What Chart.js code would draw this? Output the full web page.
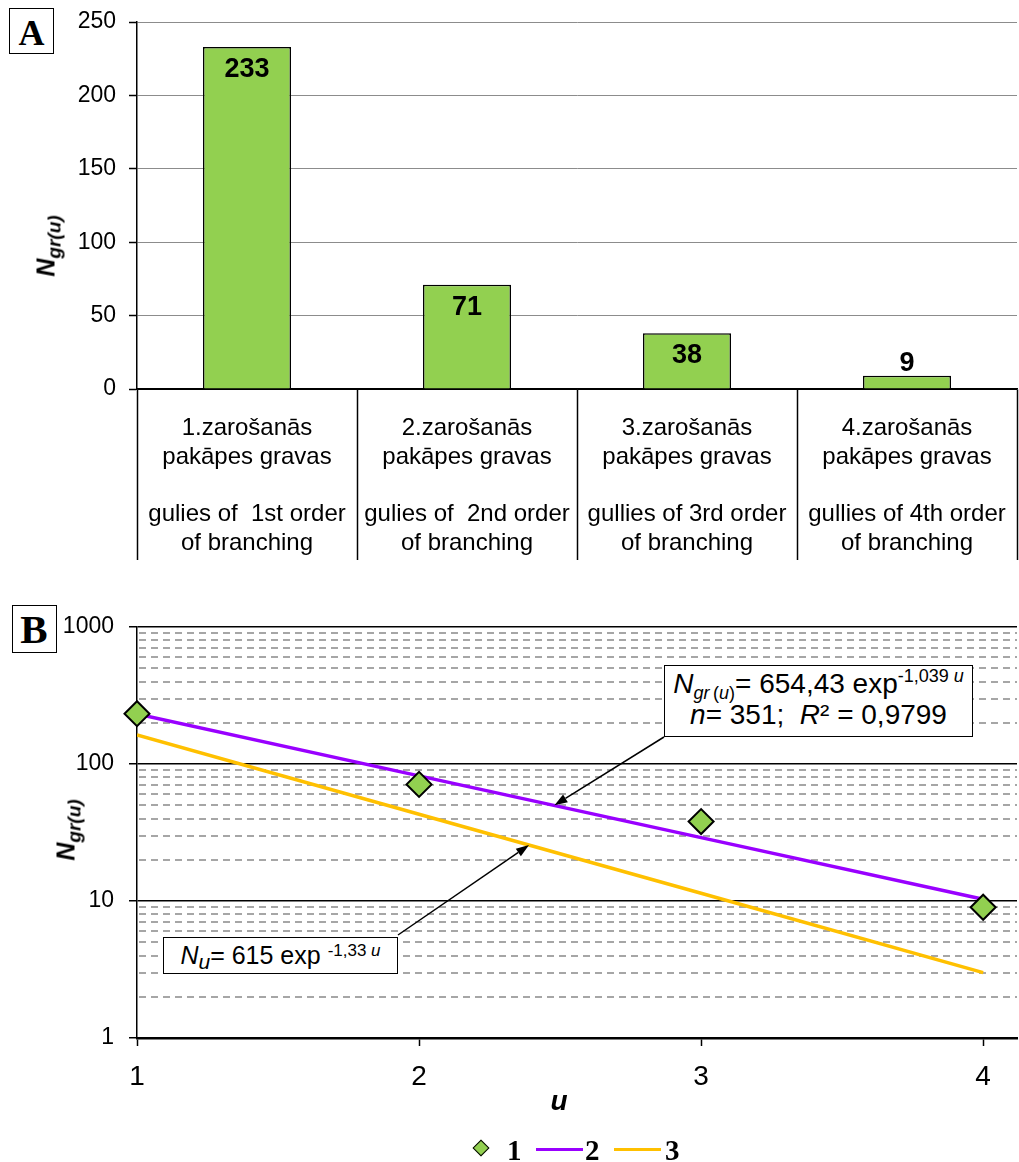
<!DOCTYPE html>
<html lang="lv">
<head>
<meta charset="utf-8">
<title>Gravu skaits pa zarošanās pakāpēm</title>
<script src="https://cdn.jsdelivr.net/npm/chart.js@4.4.1/dist/chart.umd.min.js"></script>
<style>
  html, body { margin: 0; padding: 0; background: #fff; }
  #page { position: relative; width: 1019px; height: 1162px; overflow: hidden;
          font-family: "Liberation Sans", Arial, sans-serif; color: #000; }
  canvas { position: absolute; left: 0; }
  #chartA { top: 0; }
  #chartB { top: 575px; }
  .abs { position: absolute; white-space: nowrap; line-height: 1; }
  .panelBox { position: absolute; border: 1.5px solid #000; box-sizing: border-box; background: #fff; }
  .panelLetter { position: absolute; line-height: 1; font-family: "Liberation Serif", "Times New Roman", serif;
                 font-weight: bold; transform: translateX(-50%); }
  .ytitle { position: absolute; white-space: nowrap; line-height: 1; font-weight: bold; font-style: italic;
            font-size: 25px; transform: translate(-50%, -50%) rotate(-90deg); }
  .ytitle .sub { font-size: 19px; position: relative; top: 6px; }
  .eqBox { position: absolute; border: 1.5px solid #000; box-sizing: border-box; background: #fff; }
  .eqLine { position: absolute; left: 0; right: 0; text-align: center; white-space: nowrap; line-height: 1; }
  .sub, .sup { position: relative; }
  .legendText { position: absolute; line-height: 1; font-family: "Liberation Serif", "Times New Roman", serif;
                font-weight: bold; font-size: 29px; }
</style>
</head>
<body>
<div id="page">
  <canvas id="chartA" width="1019" height="575"></canvas>
  <canvas id="chartB" width="1019" height="587"></canvas>

  <!-- panel letters -->
  <div class="panelBox" style="left:9px;top:8px;width:45px;height:46px;"></div>
  <div class="panelLetter" style="left:31.5px;top:15px;font-size:36px;">A</div>
  <div class="panelBox" style="left:12px;top:605px;width:45px;height:48px;"></div>
  <div class="panelLetter" style="left:34px;top:609px;font-size:41px;">B</div>

  <!-- y axis titles -->
  <div class="ytitle" style="left:46px;top:246px;">N<span class="sub">gr(u)</span></div>
  <div class="ytitle" style="left:66px;top:830px;">N<span class="sub">gr(u)</span></div>

  <!-- x axis title of panel B -->
  <div class="abs" style="left:559px;top:1087px;transform:translateX(-50%);font-size:28px;font-weight:bold;font-style:italic;">u</div>

  <!-- regression equations -->
  <div class="eqBox" style="left:664px;top:665px;width:309px;height:72px;font-size:28px;">
    <div class="eqLine" style="top:3.8px;"><i>N</i><span class="sub" style="font-size:18px;top:6px;"><i>gr</i>&#8201;(<i>u</i>)</span>= 654,43 exp<span class="sup" style="font-size:18px;top:-11px;">-1,039 <i>u</i></span></div>
    <div class="eqLine" style="top:34.8px;"><i>n</i>= 351;&nbsp; <i>R</i>² = 0,9799</div>
  </div>
  <div class="eqBox" style="left:163px;top:937px;width:235px;height:37px;font-size:25px;">
    <div class="eqLine" style="top:5.3px;"><i>N</i><span class="sub" style="font-size:21px;top:5px;"><i>u</i></span>= 615 exp <span class="sup" style="font-size:17px;top:-8px;">-1,33 <i>u</i></span></div>
  </div>

  <!-- legend of panel B -->
  <div class="abs" style="left:475px;top:1142px;width:12px;height:12px;background:#92D050;border:1.5px solid #000;box-sizing:border-box;transform:rotate(45deg);"></div>
  <div class="legendText" style="left:507px;top:1136px;">1</div>
  <div class="abs" style="left:536px;top:1147.5px;width:47px;height:3.5px;background:#9900FF;"></div>
  <div class="legendText" style="left:585px;top:1136px;">2</div>
  <div class="abs" style="left:614px;top:1147.5px;width:47px;height:3.5px;background:#FFC000;"></div>
  <div class="legendText" style="left:665px;top:1136px;">3</div>
</div>

<script>
// ---- data ----
const categoryLv = ['1.zarošanās', '2.zarošanās', '3.zarošanās', '4.zarošanās'];
const categoryLvLine2 = 'pakāpes gravas';
const categoryEn = ['gulies of  1st order', 'gulies of  2nd order', 'gullies of 3rd order', 'gullies of 4th order'];
const categoryEnLine2 = 'of branching';
const gullyCounts = [233, 71, 38, 9];          // number of gullies of each branching order
const countTicksStep = 50;

const branchingOrder = [1, 2, 3, 4];           // u
const fitGr = [231.5, 81.9, 29.0, 10.3];       // N_gr(u) = 654,43 exp(-1,039 u)
const fitU = [162.7, 43.0, 11.4, 3.0];         // N_u = 615 exp(-1,33 u)
const logDecades = [1, 10, 100, 1000];
const orderTicks = [1, 2, 3, 4];

// ---- shared look ----
const FONT = '"Liberation Sans", Arial, sans-serif';
Chart.defaults.font.family = FONT;
Chart.defaults.color = '#000';
const GREEN = '#92D050';

const categoryLabels = categoryLv.map((lv, i) => [lv, categoryLvLine2, '', categoryEn[i], categoryEnLine2]);

// value labels on the bars: inside the top when the bar is tall enough, above it otherwise
const barValueLabels = {
  id: 'barValueLabels',
  afterDatasetsDraw(chart) {
    const ctx = chart.ctx;
    const ds = chart.data.datasets[0];
    ctx.save();
    ctx.font = 'bold 27px ' + FONT;
    ctx.fillStyle = '#000';
    ctx.textAlign = 'center';
    ctx.textBaseline = 'alphabetic';
    chart.getDatasetMeta(0).data.forEach((bar, i) => {
      const h = bar.base - bar.y;
      const y = h > 40 ? bar.y + 30 : bar.y - 5;
      ctx.fillText(String(ds.data[i]), bar.x, y);
    });
    ctx.restore();
  }
};

new Chart(document.getElementById('chartA'), {
  type: 'bar',
  data: {
    labels: categoryLabels,
    datasets: [{
      data: gullyCounts,
      backgroundColor: GREEN,
      borderColor: '#000',
      borderWidth: 1.5,
      barPercentage: 0.4,
      categoryPercentage: 1
    }]
  },
  options: {
    responsive: false,
    animation: false,
    devicePixelRatio: 1,
    layout: { autoPadding: false, padding: { top: 22, right: 2, left: 0, bottom: 0 } },
    plugins: { legend: { display: false }, tooltip: { enabled: false } },
    scales: {
      x: {
        grid: { offset: true, drawOnChartArea: false, drawTicks: true, tickLength: 171,
                tickColor: '#000', tickWidth: 1.5, color: '#000' },
        border: { color: '#000', width: 1.5 },
        ticks: { font: { size: 24, lineHeight: 1.2 }, color: '#000', padding: -146,
                 maxRotation: 0, minRotation: 0, autoSkip: false },
        afterFit(s) { s.height = 186; s.paddingLeft = 0; s.paddingRight = 0; }
      },
      y: {
        min: 0, max: 250,
        ticks: { stepSize: countTicksStep, font: { size: 23 }, color: '#000', padding: 13 },
        grid: { color: c => (c.tick && c.tick.value === 0 ? '#000' : '#8C8C8C'), lineWidth: 1,
                tickColor: '#000', tickLength: 8, tickWidth: 1.5 },
        border: { color: '#000', width: 1.5 },
        afterFit(s) { s.width = 137; s.paddingTop = 0; s.paddingBottom = 0; }
      }
    }
  },
  plugins: [barValueLabels]
});

// dashed minor grid lines of the logarithmic axis (2..9 within every decade)
const logMinorGrid = {
  id: 'logMinorGrid',
  beforeDatasetsDraw(chart) {
    const { ctx, chartArea: a } = chart;
    const y = chart.scales.y;
    ctx.save();
    ctx.strokeStyle = '#A6A6A6';
    ctx.lineWidth = 2;
    ctx.setLineDash([7, 5]);
    for (let d = 0; d < logDecades.length - 1; d++) {
      for (let k = 2; k <= 9; k++) {
        const py = Math.round(y.getPixelForValue(k * logDecades[d]));
        ctx.beginPath();
        ctx.moveTo(a.left + 2, py);
        ctx.lineTo(a.right, py);
        ctx.stroke();
      }
    }
    ctx.restore();
  }
};

// leader arrows from the equation boxes to their trend lines
const callouts = [
  { tail: [664, 162], tip: { u: 2.48, n: 50 } },
  { tail: [398, 360], tip: { u: 2.39, n: 25.6 } }
];
const calloutArrows = {
  id: 'calloutArrows',
  afterDatasetsDraw(chart) {
    const { ctx } = chart;
    const { x, y } = chart.scales;
    ctx.save();
    ctx.strokeStyle = '#000';
    ctx.fillStyle = '#000';
    ctx.lineWidth = 1.5;
    callouts.forEach(c => {
      const [fx, fy] = c.tail;
      const tx = x.getPixelForValue(c.tip.u);
      const ty = y.getPixelForValue(c.tip.n);
      const ang = Math.atan2(ty - fy, tx - fx);
      const headLen = 13, headHalf = 4.5;
      const bx = tx - headLen * Math.cos(ang), by = ty - headLen * Math.sin(ang);
      ctx.beginPath();
      ctx.moveTo(fx, fy);
      ctx.lineTo(bx, by);
      ctx.stroke();
      ctx.beginPath();
      ctx.moveTo(tx, ty);
      ctx.lineTo(bx + headHalf * Math.sin(ang), by - headHalf * Math.cos(ang));
      ctx.lineTo(bx - headHalf * Math.sin(ang), by + headHalf * Math.cos(ang));
      ctx.closePath();
      ctx.fill();
    });
    ctx.restore();
  }
};

new Chart(document.getElementById('chartB'), {
  type: 'scatter',
  data: {
    datasets: [
      {
        label: '1',
        data: branchingOrder.map((u, i) => ({ x: u, y: gullyCounts[i] })),
        pointStyle: 'rectRot',
        pointRadius: 12.5,
        backgroundColor: GREEN,
        borderColor: '#000',
        borderWidth: 2,
        showLine: false,
        clip: false,
        order: 0
      },
      {
        label: '2',
        type: 'line',
        data: branchingOrder.map((u, i) => ({ x: u, y: fitGr[i] })),
        borderColor: '#9900FF',
        borderWidth: 3.5,
        pointRadius: 0,
        tension: 0,
        fill: false,
        order: 1
      },
      {
        label: '3',
        type: 'line',
        data: branchingOrder.map((u, i) => ({ x: u, y: fitU[i] })),
        borderColor: '#FFC000',
        borderWidth: 3.5,
        pointRadius: 0,
        tension: 0,
        fill: false,
        order: 2
      }
    ]
  },
  options: {
    responsive: false,
    animation: false,
    devicePixelRatio: 1,
    layout: { autoPadding: false, padding: { top: 52, right: 2, left: 0, bottom: 0 } },
    plugins: { legend: { display: false }, tooltip: { enabled: false } },
    scales: {
      x: {
        type: 'linear',
        min: 1, max: 4.12,
        afterBuildTicks(s) { s.ticks = orderTicks.map(v => ({ value: v })); },
        ticks: { font: { size: 28 }, color: '#000', padding: 14, callback: v => String(v) },
        grid: { drawOnChartArea: false, drawTicks: true, tickLength: 8, tickColor: '#000', tickWidth: 1.5 },
        border: { color: '#000', width: 2.5 },
        afterFit(s) { s.height = 124; s.paddingLeft = 0; s.paddingRight = 0; }
      },
      y: {
        type: 'logarithmic',
        min: 1, max: 1000,
        afterBuildTicks(s) { s.ticks = logDecades.map(v => ({ value: v })); },
        ticks: { font: { size: 23 }, color: '#000', padding: 15, callback: v => String(v) },
        grid: { color: c => (c.tick && c.tick.value === 1 ? 'rgba(0,0,0,0)' : '#000'), lineWidth: 1.5,
                tickColor: '#000', tickLength: 8, tickWidth: 1.5 },
        border: { color: '#000', width: 1.5 },
        afterFit(s) { s.width = 137; s.paddingTop = 0; s.paddingBottom = 0; }
      }
    }
  },
  plugins: [logMinorGrid, calloutArrows]
});
</script>
</body>
</html>
